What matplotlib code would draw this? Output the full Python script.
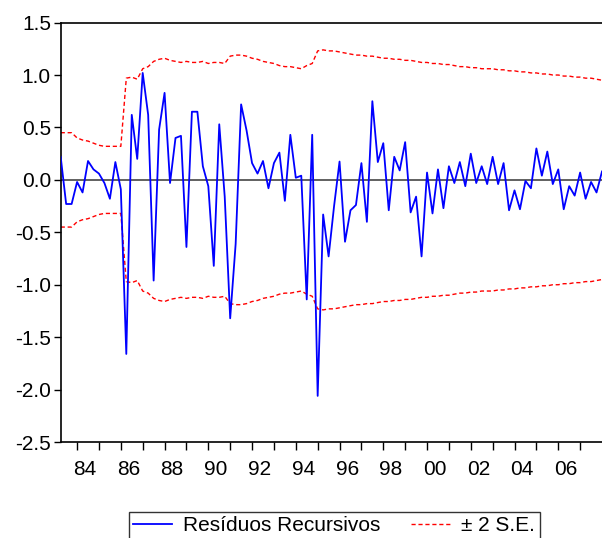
import numpy as np
import matplotlib
matplotlib.use("Agg")
import matplotlib.pyplot as plt

plt.rcParams['font.family'] = ['Liberation Sans', 'DejaVu Sans']

# quarterly sample, first observation 1983Q2
first_obs = 1983.25

# recursive residuals, one value per quarter
residuals = [
    0.22, -0.23, -0.23, -0.02, -0.12, 0.18, 0.10, 0.06, -0.03, -0.18,
    0.17, -0.09, -1.66, 0.62, 0.20, 1.02, 0.62, -0.96, 0.48, 0.83,
    -0.03, 0.40, 0.42, -0.64, 0.65, 0.65, 0.13, -0.06, -0.82, 0.53,
    -0.16, -1.32, -0.61, 0.72, 0.47, 0.16, 0.06, 0.18, -0.08, 0.16,
    0.26, -0.20, 0.43, 0.02, 0.04, -1.14, 0.43, -2.06, -0.33, -0.73,
    -0.25, 0.175, -0.59, -0.29, -0.24, 0.16, -0.40, 0.75, 0.17, 0.35,
    -0.29, 0.22, 0.09, 0.36, -0.31, -0.16, -0.73, 0.07, -0.32, 0.10,
    -0.27, 0.13, -0.03, 0.17, -0.06, 0.25, -0.03, 0.13, -0.04, 0.22,
    -0.04, 0.16, -0.29, -0.10, -0.28, -0.01, -0.08, 0.30, 0.04, 0.27,
    -0.04, 0.10, -0.28, -0.06, -0.15, 0.07, -0.18, -0.02, -0.12, 0.08,
]

# two standard error band (plotted as +/-)
two_se = [
    0.45, 0.45, 0.45, 0.40, 0.38, 0.37, 0.35, 0.33, 0.32, 0.32,
    0.32, 0.32, 0.97, 0.98, 0.96, 1.06, 1.08, 1.13, 1.15, 1.16,
    1.14, 1.13, 1.12, 1.13, 1.12, 1.12, 1.13, 1.11, 1.12, 1.12,
    1.11, 1.18, 1.19, 1.19, 1.18, 1.16, 1.15, 1.13, 1.12, 1.11,
    1.09, 1.08, 1.08, 1.07, 1.06, 1.09, 1.11, 1.23, 1.24, 1.23,
    1.23, 1.22, 1.21, 1.20, 1.19, 1.19, 1.18, 1.18, 1.17, 1.16,
    1.16, 1.15, 1.15, 1.14, 1.14, 1.13, 1.12, 1.12, 1.11, 1.11,
    1.10, 1.10, 1.09, 1.08, 1.08, 1.07, 1.07, 1.06, 1.06, 1.06,
    1.05, 1.05, 1.04, 1.04, 1.03, 1.03, 1.02, 1.02, 1.01, 1.01,
    1.00, 1.00, 0.99, 0.99, 0.98, 0.98, 0.97, 0.97, 0.96, 0.95,
]

year_labels = ['84', '86', '88', '90', '92', '94', '96', '98', '00', '02', '04', '06']
label_years = [1984, 1986, 1988, 1990, 1992, 1994, 1996, 1998, 2000, 2002, 2004, 2006]
y_ticks = [1.5, 1.0, 0.5, 0.0, -0.5, -1.0, -1.5, -2.0, -2.5]

res = np.array(residuals)
se = np.array(two_se)
x = first_obs + np.arange(len(res)) / 4.0

fig = plt.figure(figsize=(6.02, 5.38), dpi=100)
ax = fig.add_axes([0.1008, 0.1784, 0.8992, 0.7796])

ax.axhline(0, color='#606060', lw=1.4, zorder=1)
ax.plot(x, res, color='#0000ff', lw=1.3, label='Resíduos Recursivos', zorder=3)
ax.plot(x, se, color='#ff0000', lw=1.0, ls=(0, (3, 2)), label='± 2 S.E.', zorder=2)
ax.plot(x, -se, color='#ff0000', lw=1.0, ls=(0, (3, 2)), zorder=2)

ax.set_xlim(x[0], x[-1])
ax.set_ylim(-2.5, 1.5)
ax.set_yticks(y_ticks)
ax.set_yticklabels(['%.1f' % v for v in y_ticks])

# year tick marks at start of each year, labels shifted into the year
ax.set_xticks(np.arange(1984, 2008), minor=True)
ax.set_xticks([y + 0.35 for y in label_years])
ax.set_xticklabels(year_labels)
ax.tick_params(axis='x', which='major', length=0, pad=13, labelsize=15)
ax.tick_params(axis='x', which='minor', length=6, width=1, direction='out')
ax.tick_params(axis='y', length=5, width=1, direction='out', pad=2, labelsize=15)

for s in ['left', 'bottom', 'top']:
    ax.spines[s].set_linewidth(1.2)
ax.spines['right'].set_visible(False)

leg = fig.legend(loc='upper center', bbox_to_anchor=(0.555, 1 - 512 / 538), ncol=2,
                 fontsize=15, frameon=True, fancybox=False, edgecolor='black',
                 handlelength=1.9, columnspacing=1.5, borderpad=0.2,
                 handletextpad=0.5, borderaxespad=0)
leg.get_frame().set_linewidth(1.0)

fig.savefig('out.png', dpi=100)
